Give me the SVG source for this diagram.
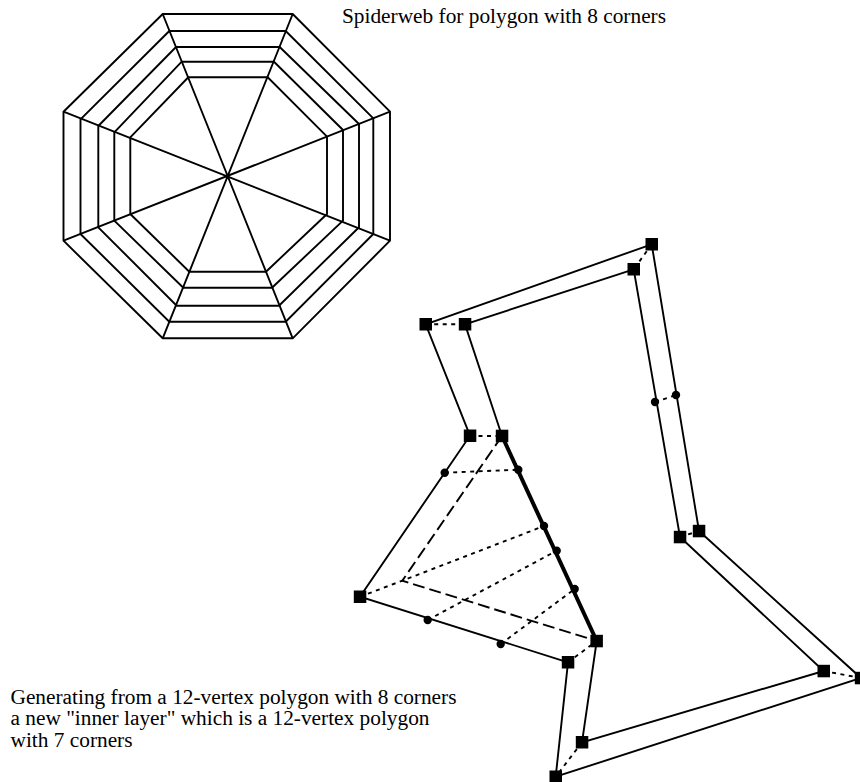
<svg xmlns="http://www.w3.org/2000/svg" width="860" height="782" viewBox="0 0 860 782">
<style>
text{font-family:"Liberation Serif","Times New Roman",serif;font-size:21.33px;fill:#000}
.l{fill:none;stroke:#000;stroke-width:1.9;stroke-linejoin:miter}
.t{fill:none;stroke:#000;stroke-width:4}
.dot{fill:none;stroke:#000;stroke-width:1.9;stroke-dasharray:4 4.5}
.dash{fill:none;stroke:#000;stroke-width:1.9;stroke-dasharray:12 5}
.s{fill:#000}
</style>
<rect width="860" height="782" fill="#fff"/>
<g id="spiderweb">
<polygon class="l" points="162.7,14 292.7,14 390,111.7 390,240.7 292.7,338.3 162.7,338.3 63.5,240.7 63.5,111.7"/>
<polygon class="l" points="169.3,31 285.7,31 373.3,118.3 373.3,234 285.7,321.7 169.3,321.7 80.5,234 80.5,119.3"/>
<polygon class="l" points="176,47 279.7,47 359,124 359,227.3 279,305.7 176.7,305.7 98.3,227.3 98.3,126"/>
<polygon class="l" points="181.7,61.7 274,61.7 343,130 343,220.7 272,287.7 183.3,287.7 114.3,220.7 114.3,132.3"/>
<polygon class="l" points="188.3,77.3 267.7,77.3 327,136.7 327,214 266,271.7 189.3,271.7 130.3,214 130.3,137.3"/>
<path class="l" d="M162.7,14L292.7,338.3M292.7,14L162.7,338.3M63.5,111.7L390,240.7M63.5,240.7L390,111.7"/>
</g>
<g id="connectors">
<polyline class="l" points="651.7,244.3 425.7,324.3 470,435.7 360,596.7 568,662.3 555.7,776.7 861,678 699,531 651.7,244.3"/>
<polyline class="l" points="633.7,269.3 465,324.3 502,436"/>
<polyline class="l" points="596.7,641 582,742.3 823.7,671 680,537 633.7,269.3"/>
<line class="t" x1="502" y1="436" x2="596.7" y2="641"/>
<path class="dot" d="M425.7,324.3H465M470,436H502M651.7,244.3L633.7,269.3M655,402L676,395M680,537L699,531M823.7,671L861,678M582,742.3L555.7,776.7M568,662.3L596.7,641M444.7,472.7L518.3,469.7M360,596.7L402.3,580.7L544,526M427.7,620L556.7,550.7M500.7,644L574.7,589"/>
<path class="dash" d="M502,436L402.3,580.7L596.7,641"/>
</g>
<g id="vertices" class="s">
<rect x="645.5" y="238" width="12.5" height="12.5"/>
<rect x="627.5" y="263" width="12.5" height="12.5"/>
<rect x="419.5" y="318" width="12.5" height="12.5"/>
<rect x="458.8" y="318" width="12.5" height="12.5"/>
<rect x="463.8" y="429.5" width="12.5" height="12.5"/>
<rect x="495.8" y="429.7" width="12.5" height="12.5"/>
<rect x="353.8" y="590.5" width="12.5" height="12.5"/>
<rect x="590.4" y="634.8" width="12.5" height="12.5"/>
<rect x="561.8" y="656" width="12.5" height="12.5"/>
<rect x="575.8" y="736" width="12.5" height="12.5"/>
<rect x="549.5" y="770.5" width="12.5" height="12.5"/>
<rect x="817.5" y="664.8" width="12.5" height="12.5"/>
<rect x="854.8" y="671.8" width="12.5" height="12.5"/>
<rect x="673.8" y="530.8" width="12.5" height="12.5"/>
<rect x="692.8" y="524.8" width="12.5" height="12.5"/>
<circle cx="655" cy="402" r="4.2"/>
<circle cx="676" cy="395" r="4.2"/>
<circle cx="444.7" cy="472.7" r="4.2"/>
<circle cx="518.3" cy="469.7" r="4.2"/>
<circle cx="544" cy="526" r="4.2"/>
<circle cx="556.7" cy="550.7" r="4.2"/>
<circle cx="574.7" cy="589" r="4.2"/>
<circle cx="427.7" cy="620" r="4.2"/>
<circle cx="500.7" cy="644" r="4.2"/>
</g>
<g id="labels">
<text x="342" y="23">Spiderweb for polygon with 8 corners</text>
<text><tspan x="10.5" y="704">Generating from a 12-vertex polygon with 8 corners</tspan><tspan x="10.5" y="725">a new "inner layer" which is a 12-vertex polygon</tspan><tspan x="10.5" y="746.5">with 7 corners</tspan></text>
</g>
</svg>
